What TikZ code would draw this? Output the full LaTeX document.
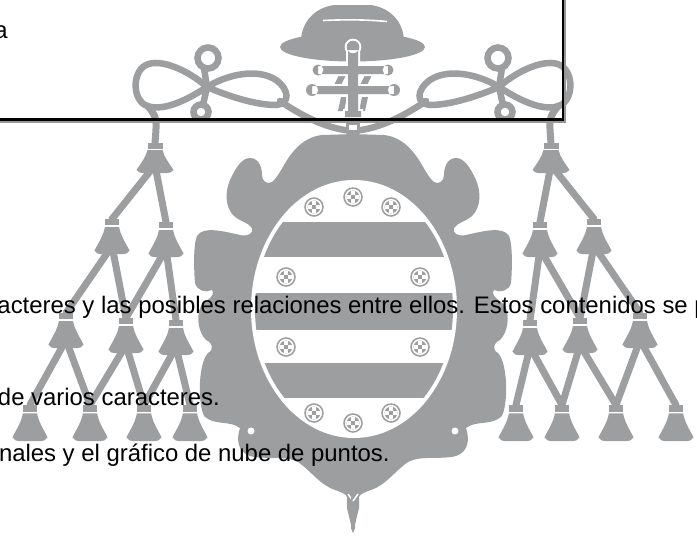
\documentclass[tikz,border=0pt]{standalone}
\usepackage{fontspec}
\setmainfont{Liberation Sans}
\definecolor{emb}{RGB}{157,158,160}
\definecolor{shad}{RGB}{150,150,150}
\tikzset{
  cord/.style={draw=emb, line width=7pt, line cap=round},
  knotline/.style={draw=emb, line width=6.5pt, line cap=round},
  txt/.style={inner sep=0pt, outer sep=0pt, font=\fontsize{23.9pt}{28pt}\selectfont, text=black},
  tassel/.pic={
    \fill[emb] (-7.5,0) rectangle (7.5,5.5);
    \fill[emb] (-7.5,7) -- (7.5,7) .. controls (9,14) and (14,20) .. (18.5,27)
      .. controls (17,29.5) and (14,30) .. (12,30) -- (-12,30)
      .. controls (-14,30) and (-17,29.5) .. (-18.5,27)
      .. controls (-14,20) and (-9,14) .. (-7.5,7) -- cycle;
  },
  roundel/.pic={
    \fill[emb] (0,0) circle (9.8);
    \fill[white] (0,0) circle (8.1);
    \begin{scope}
      \clip (0,0) circle (6.4);
      \fill[emb] (-7,-7) rectangle (7,7);
      \fill[white] (-1.8,-5.6) rectangle (1.8,-1.9);
      \fill[white] (-1.8,1.9) rectangle (1.8,5.6);
      \fill[white] (-5.6,-1.8) rectangle (-1.9,1.8);
      \fill[white] (1.9,-1.8) rectangle (5.6,1.8);
    \end{scope}
  }
}
\newcommand\emhalf{%
  % knot
  \draw[knotline] (208,58) circle (10.5);
  \draw[knotline] (201,112) circle (7.5);
  \draw[knotline] (207,87) .. controls (188,70) and (160,58) .. (146,65)
     .. controls (132,72) and (132,100) .. (147,106)
     .. controls (165,112) and (190,98) .. (207,87);
  \draw[knotline] (207,87) .. controls (228,74) and (258,68) .. (276,80)
     .. controls (290,90) and (290,104) .. (276,105)
     .. controls (255,105) and (228,96) .. (207,87);
  \draw[knotline] (204,68) -- (207,87) -- (203,105);
  \draw[knotline] (280,101) .. controls (305,118) and (330,130) .. (355,131);
  % tassel anchors
  \coordinate (k1) at (148,106);
  \coordinate (ta1) at (155,143);  \coordinate (tb1) at (155,165);
  \coordinate (ta2a) at (112,219); \coordinate (tb2a) at (112,246);
  \coordinate (ta2b) at (166,222); \coordinate (tb2b) at (166,249);
  \coordinate (ta3a) at (66,313);  \coordinate (tb3a) at (66,340);
  \coordinate (ta3b) at (126,318); \coordinate (tb3b) at (126,345);
  \coordinate (ta3c) at (176,320); \coordinate (tb3c) at (176,347);
  \coordinate (ta4a) at (30,405);
  \coordinate (ta4b) at (90,405);
  \coordinate (ta4c) at (144,405);
  \coordinate (ta4d) at (190,405);
  % cords
  \draw[cord] (k1) .. controls (157,118) .. (ta1);
  \draw[cord] (tb1) -- (ta2a);
  \draw[cord] (tb1) -- (ta2b);
  \draw[cord] (tb2a) -- (ta3a);
  \draw[cord] (tb2a) -- (ta3b);
  \draw[cord] (tb2b) -- (ta3b);
  \draw[cord] (tb2b) -- (ta3c);
  \draw[cord] (tb3a) -- (ta4a);
  \draw[cord] (tb3a) -- (ta4b);
  \draw[cord] (tb3b) -- (ta4b);
  \draw[cord] (tb3b) -- (ta4c);
  \draw[cord] (tb3c) -- (ta4c);
  \draw[cord] (tb3c) -- (ta4d);
  % tassels
  \pic at (ta1) {tassel};
  \pic[xscale=0.95, yscale=1.17] at (ta2a) {tassel};
  \pic[xscale=0.95, yscale=1.17] at (ta2b) {tassel};
  \pic[xscale=0.95, yscale=1.17] at (ta3a) {tassel};
  \pic[xscale=0.95, yscale=1.17] at (ta3b) {tassel};
  \pic[xscale=0.95, yscale=1.17] at (ta3c) {tassel};
  \pic[xscale=0.95, yscale=1.2] at (ta4a) {tassel};
  \pic[xscale=0.95, yscale=1.2] at (ta4b) {tassel};
  \pic[xscale=0.95, yscale=1.2] at (ta4c) {tassel};
  \pic[xscale=0.95, yscale=1.2] at (ta4d) {tassel};
  % cartouche half
  \fill[emb] (355,134) -- (322,135)
    .. controls (305,137) and (295,148) .. (287,160)
    .. controls (281,170) and (277,178) .. (272,182)
    .. controls (267,185) and (262,181) .. (262,175)
    .. controls (262,166) and (258,158) .. (250,158)
    .. controls (242,158) and (236,167) .. (230,180)
    .. controls (225,192) and (225,206) .. (233,215)
    .. controls (240,222) and (248,222) .. (252,228)
    .. controls (254,233) and (248,237) .. (240,235)
    .. controls (222,231) and (203,226) .. (197,236)
    .. controls (193,245) and (194,272) .. (195,283)
    .. controls (197,291) and (206,293) .. (212,290)
    .. controls (216,296) and (206,300) .. (201,306)
    .. controls (196,316) and (198,332) .. (206,340)
    .. controls (213,343) and (214,350) .. (208,353)
    .. controls (199,362) and (197,400) .. (204,416)
    .. controls (214,426) and (230,420) .. (240,428)
    .. controls (236,440) and (238,452) .. (250,456)
    .. controls (265,460) and (285,455) .. (298,462)
    .. controls (310,470) and (320,485) .. (335,490)
    .. controls (341,492) and (346,494) .. (347,497)
    -- (347,508) -- (353,533) -- (355,528) -- cycle;
  \fill[white] (251,431) circle (3.5);
  \draw[white, line width=1.5pt] (348,494) -- (353,501);
}
\begin{document}
\begin{tikzpicture}[x=1pt,y=-1pt]
\useasboundingbox (0,0) rectangle (697,541);
\clip (0,0) rectangle (697,541);
\fill[white] (0,0) rectangle (697,541);
% emblem halves
\emhalf
\begin{scope}[xshift=706, xscale=-1]
\emhalf
\end{scope}
% inner oval
\fill[white] (354,309) ellipse [x radius=103, y radius=129];
\begin{scope}
  \clip (354,309) ellipse [x radius=99, y radius=125];
  \fill[emb] (240,222) rectangle (470,257);
  \fill[emb] (240,293) rectangle (470,330);
  \fill[emb] (240,363) rectangle (470,398);
\end{scope}
\pic at (314,207) {roundel};
\pic at (353,197) {roundel};
\pic at (391,207) {roundel};
\pic at (286,277) {roundel};
\pic at (420,277) {roundel};
\pic at (286,347) {roundel};
\pic at (420,347) {roundel};
\pic at (314,413) {roundel};
\pic at (353,423) {roundel};
\pic at (391,413) {roundel};
% hat
\fill[emb] (352.5,47) ellipse [x radius=72.5, y radius=14.5];
\fill[emb] (301,40) .. controls (302,22) and (314,8) .. (334,5) -- (371,5)
   .. controls (391,8) and (403,22) .. (404,40) -- cycle;
\draw[white, line width=1.6pt] (323,20.5) .. controls (345,19.5) and (365,19.5) .. (387,21.5);
% hat cord pieces behind cross
\fill[emb] (334,85) -- (339,75) -- (346,75) -- (341,85) -- cycle;
\fill[emb] (360,85) -- (365,75) -- (372,75) -- (367,85) -- cycle;
\fill[emb] (338,111) -- (341,97) -- (347,97) -- (344,111) -- cycle;
\fill[emb] (359,111) -- (362,97) -- (368,97) -- (365,111) -- cycle;
% cross with white outline
\path[draw=white, fill=white, line width=4pt]
  (348,50) rectangle (358,116) (353,47) circle (6.3)
  (318,66) rectangle (388,74) (318,70) circle (5.5) (388,70) circle (5.5)
  (312,86) rectangle (394,94) (312,90) circle (6) (394,90) circle (6)
  (345,111) rectangle (361,117);
\fill[emb]
  (348,50) rectangle (358,116) (353,47) circle (6.3)
  (318,66) rectangle (388,74) (318,70) circle (5.5) (388,70) circle (5.5)
  (312,86) rectangle (394,94) (312,90) circle (6) (394,90) circle (6)
  (345,111) rectangle (361,117);
\fill[emb] (346,121) rectangle (360,134);
\fill[white] (349,125) rectangle (357,130);
% box with shadow
\draw[shad, line width=2.3pt] (-7.6,-7.6) rectangle (565.1,122);
\draw[black, line width=2.3pt] (-10,-10) rectangle (562.7,119.5);
% texts
\node[txt, anchor=base west] (ta) at (-5.5,38.6) {a};
\node[txt, anchor=base west] (l1) at (-2.5,313.3) {acteres y las posibles relaciones entre ellos. Estos contenidos se p};
\node[txt, anchor=base west] (l2) at (-2,405.7) {de varios caracteres.};
\node[txt, anchor=base west] (l3) at (-1,461.7) {nales y el gráfico de nube de puntos.};
\end{tikzpicture}
\end{document}
